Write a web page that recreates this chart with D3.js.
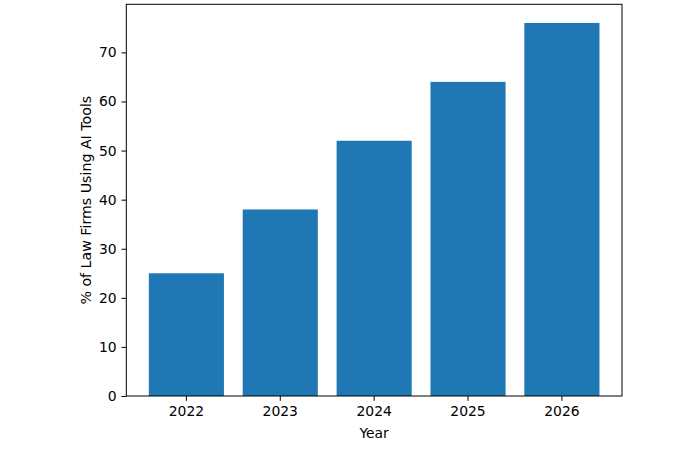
<!DOCTYPE html>
<html>
<head>
<meta charset="utf-8">
<script src="https://cdn.jsdelivr.net/npm/d3@7"></script>
<style>
  body { margin: 0; background: #fff; }
  text { font-family: "DejaVu Sans", sans-serif; }
</style>
</head>
<body>
<div id="chart"></div>
<script>
// chart data
var years = ["2022", "2023", "2024", "2025", "2026"]
var adoption = [25, 38, 52, 64, 76]
var yTicks = [0, 10, 20, 30, 40, 50, 60, 70]

var svgWidth = 700
var svgHeight = 450

var margin = { top: 4.3, right: 78, bottom: 54, left: 126.3 }
var chartWidth = svgWidth - margin.left - margin.right
var chartHeight = svgHeight - margin.top - margin.bottom

var svg = d3.select("#chart")
    .append("svg")
    .attr("width", svgWidth)
    .attr("height", svgHeight)

var chartGroup = svg.append("g")
    .attr("transform", `translate(${margin.left}, ${margin.top})`)

var fontSize = 13.9
var tickLen = 4.86

// scales
var xScale = d3.scaleBand()
    .domain(years)
    .range([0, chartWidth])
    .paddingInner(0.2)
    .paddingOuter(0.24)

var yScale = d3.scaleLinear()
    .domain([0, d3.max(adoption) * 1.05])
    .range([chartHeight, 0])

// bars
chartGroup.append("g")
    .selectAll("rect")
    .data(adoption)
    .enter()
    .append("rect")
    .attr("x", (d, i) => xScale(years[i]))
    .attr("y", d => yScale(d))
    .attr("width", xScale.bandwidth())
    .attr("height", d => chartHeight - yScale(d))
    .attr("fill", "#1f77b4")

// axes
var xAxis = d3.axisBottom(xScale).tickSizeInner(tickLen).tickSizeOuter(0).tickPadding(4.86)
var yAxis = d3.axisLeft(yScale).tickValues(yTicks).tickSizeInner(tickLen).tickSizeOuter(0).tickPadding(4.86)

var xG = chartGroup.append("g")
    .attr("transform", `translate(0, ${chartHeight})`)
    .call(xAxis)

var yG = chartGroup.append("g")
    .call(yAxis)

;[xG, yG].forEach(g => {
    g.select(".domain").remove()
    g.selectAll(".tick line").attr("stroke", "#000").attr("stroke-width", 1)
    g.selectAll(".tick text")
        .attr("fill", "#000")
        .attr("font-size", fontSize)
        .attr("font-family", "DejaVu Sans, sans-serif")
})

// frame
chartGroup.append("rect")
    .attr("x", 0)
    .attr("y", 0)
    .attr("width", chartWidth)
    .attr("height", chartHeight)
    .attr("fill", "none")
    .attr("stroke", "#000")
    .attr("stroke-width", 1)

// axis labels
chartGroup.append("text")
    .attr("x", chartWidth / 2)
    .attr("y", chartHeight + 42)
    .attr("text-anchor", "middle")
    .attr("font-size", fontSize)
    .text("Year")

chartGroup.append("text")
    .attr("transform", `translate(${-35}, ${chartHeight / 2}) rotate(-90)`)
    .attr("text-anchor", "middle")
    .attr("font-size", 14.2)
    .text("% of Law Firms Using AI Tools")
</script>
</body>
</html>
